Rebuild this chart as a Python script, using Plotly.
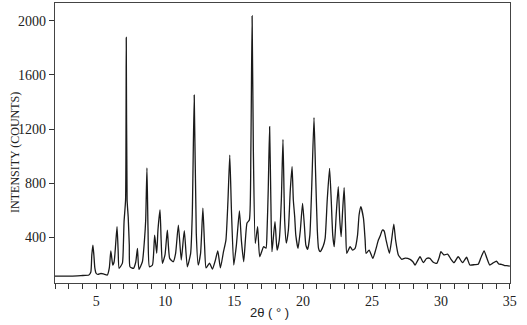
import plotly.graph_objects as go

# Powder XRD trace (2-theta in degrees, intensity in counts)
two_theta = [
    2.0, 3.16, 3.88, 4.46, 4.60, 4.67, 4.75, 4.82, 4.89, 4.98, 5.11, 5.33, 5.54, 5.80, 5.94,
    6.05, 6.12, 6.19, 6.29, 6.37, 6.50, 6.58, 6.65, 6.89, 6.96, 7.01, 7.12, 7.17, 7.23,
    7.31, 7.39, 7.44, 7.69, 7.86, 7.98, 8.09, 8.34, 8.49, 8.58, 8.67, 8.75, 8.85, 9.07,
    9.23, 9.38, 9.47, 9.62, 9.70, 9.79, 9.98, 10.15, 10.32, 10.58, 10.75, 10.95, 11.16,
    11.38, 11.60, 11.84, 11.96, 12.10, 12.25, 12.39, 12.56, 12.73, 12.85, 12.96, 13.21,
    13.42, 13.64, 13.81, 14.00, 14.22, 14.40, 14.55, 14.68, 14.80, 14.97, 15.16, 15.38,
    15.52, 15.69, 15.93, 16.10, 16.21, 16.30, 16.39, 16.53, 16.70, 16.85, 17.14, 17.31,
    17.38, 17.47, 17.57, 17.66, 17.74, 17.96, 18.11, 18.27, 18.42, 18.54, 18.66, 18.78,
    18.93, 19.07, 19.20, 19.29, 19.39, 19.47, 19.63, 19.80, 19.96, 20.09, 20.20, 20.33,
    20.49, 20.63, 20.79, 20.90, 21.03, 21.12, 21.24, 21.46, 21.60, 21.75, 21.92, 22.04,
    22.15, 22.26, 22.40, 22.55, 22.66, 22.76, 22.87, 22.98, 23.09, 23.17, 23.41, 23.59,
    23.77, 23.95, 24.06, 24.19, 24.38, 24.50, 24.57, 24.79, 25.06, 25.26, 25.46, 25.59,
    25.75, 25.88, 26.02, 26.26, 26.42, 26.58, 26.71, 26.91, 27.16, 27.40, 27.76, 27.98,
    28.12, 28.48, 28.72, 28.95, 29.20, 29.42, 29.69, 29.86, 30.00, 30.22, 30.48, 30.72,
    30.94, 31.25, 31.57, 31.86, 32.10, 32.46, 32.70, 32.89, 33.13, 33.33, 33.54, 33.76,
    34.03, 34.19, 34.39, 34.63, 34.87, 35.0,
]
intensity = [
    114, 114, 118, 122, 144, 270, 343, 270, 175, 135, 126, 133, 129, 122, 174,
    301, 247, 196, 220, 306, 479, 306, 171, 210, 343, 516, 676, 1877, 676,
    552, 343, 183, 171, 218, 319, 164, 220, 380, 528, 914, 454, 183, 196,
    417, 282, 454, 602, 380, 208, 270, 454, 245, 220, 282, 491, 233,
    449, 183, 282, 577, 1451, 430, 196, 282, 615, 343, 174, 210,
    166, 233, 301, 174, 292, 380, 676, 1008, 602, 196, 343, 595,
    380, 220, 506, 528, 1045, 2035, 1045, 356, 479, 257, 331, 321,
    432, 750, 1217, 676, 294, 516, 306, 380, 676, 1124, 528, 358,
    454, 750, 922, 676, 552, 417, 319, 454, 651, 491, 343, 312,
    417, 787, 1284, 897, 454, 319, 294, 336, 395, 676, 910, 676,
    417, 331, 565, 774, 528, 405, 602, 767, 454, 282, 331, 306,
    319, 417, 565, 626, 540, 380, 282, 306, 245, 306, 380, 410,
    454, 447, 380, 282, 380, 498, 380, 270, 238, 247, 238, 218,
    196, 257, 213, 244, 245, 218, 208, 247, 294, 270, 277, 240,
    213, 257, 213, 253, 196, 199, 201, 247, 301, 247, 196, 210,
    225, 203, 201, 192, 190, 188,
]

x_ticks = [5, 10, 15, 20, 25, 30, 35]
y_ticks = [400, 800, 1200, 1600, 2000]

serif = "Liberation Serif, Times New Roman, serif"

fig = go.Figure()
fig.add_trace(go.Scatter(
    x=two_theta, y=intensity, mode="lines",
    line=dict(color="#1a1a1a", width=1.3, shape="spline", smoothing=0.5),
    showlegend=False, hoverinfo="skip",
))

fig.update_layout(
    width=527, height=325,
    margin=dict(l=55, r=17, t=3, b=42),
    paper_bgcolor="white", plot_bgcolor="white",
    font=dict(family=serif, size=14, color="#222"),
    xaxis=dict(
        range=[2, 35.01], tickmode="array", tickvals=x_ticks,
        ticktext=[str(v) for v in x_ticks],
        ticks="outside", ticklen=5, tickwidth=1, tickcolor="#333",
        minor=dict(dtick=1, tick0=0, ticks="outside", ticklen=5, tickwidth=1, tickcolor="#333"),
        showline=True, linecolor="#444", linewidth=1.2, mirror=True,
        showgrid=False, zeroline=False,
        tickfont=dict(family=serif, size=14, color="#222"),
    ),
    yaxis=dict(
        range=[63, 2131], tickmode="array", tickvals=y_ticks,
        ticktext=[str(v) for v in y_ticks],
        ticks="outside", ticklen=5, tickwidth=1, tickcolor="#333",
        showline=True, linecolor="#444", linewidth=1.2, mirror=True,
        showgrid=False, zeroline=False,
        tickfont=dict(family=serif, size=14, color="#222"),
    ),
    annotations=[
        dict(text="INTENSITY (COUNTS)", textangle=-90, xref="paper", yref="paper",
             x=-0.088, y=0.468, xanchor="center", yanchor="middle", showarrow=False,
             font=dict(family=serif, size=12, color="#222")),
        dict(text="2θ ( ° )", xref="paper", yref="paper",
             x=0.4725, y=-0.107, xanchor="center", yanchor="middle", showarrow=False,
             font=dict(family="Liberation Sans, Arial, sans-serif", size=13, color="#222")),
    ],
)

fig.write_html("out.html")
